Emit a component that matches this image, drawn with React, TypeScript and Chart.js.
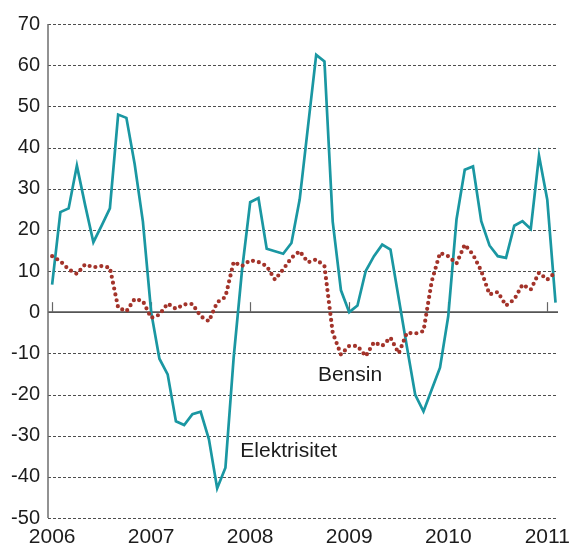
import React, { useEffect, useRef } from 'react';
import { Chart, registerables } from 'chart.js';

Chart.register(...registerables);

// Monthly data, January 2006 .. February 2011 (index 0 = Jan 2006)
const yearLabels = ['2006', '2007', '2008', '2009', '2010', '2011'];
const yTickValues = [70, 60, 50, 40, 30, 20, 10, 0, -10, -20, -30, -40, -50];

const elektrisitet = [
  6.7, 24.3, 25.2, 35.6, 26, 17.0, 21, 25.2, 48.0, 47.2, 36, 22,
  0, -11.3, -15.1, -26.5, -27.4, -24.8, -24.2, -30.9, -42.8, -37.8, -11, 10,
  26.7, 27.7, 15.4, 14.8, 14.2, 16.8, 27.4, 45, 62.5, 60.9, 22, 5.3,
  0, 1.6, 10, 13.6, 16.4, 15.2, 3.3, -8.5, -20.1, -24.1, -18.8, -13.5,
  -1.0, 22.5, 34.6, 35.4, 22.1, 16.2, 13.6, 13.2, 21.0, 22.1, 20.2, 38.0,
  27.3, 2.3,
];

const bensin = [
  13.6, 12.4, 10.4, 9.3, 11.6, 10.9, 11.2, 10.8, 1.1, 0.2, 3.2, 2.7,
  -1.4, -0.6, 2.1, 0.8, 1.9, 2.0, -1.0, -2.2, 2.4, 3.7, 12.2, 11.2,
  12.6, 12.2, 11.2, 7.9, 10.4, 13.2, 14.8, 12.1, 12.8, 11.2, -5, -10.3,
  -8.2, -8.2, -10.7, -7.3, -8.2, -6.2, -10, -5, -5.2, -4.6, 7.5, 14.4,
  13.6, 11.8, 16.4, 14.0, 10, 4.3, 4.9, 1.6, 3.1, 6.7, 5.5, 9.6,
  7.9, 9.7,
];

const seriesLabels = [
  { text: 'Bensin', month: 36.1, value: -16.6, align: 'center' as CanvasTextAlign },
  { text: 'Elektrisitet', month: 22.8, value: -35.1, align: 'left' as CanvasTextAlign },
];

const FONT = '"Liberation Sans", Arial, Helvetica, sans-serif';
const TEAL = '#1a97a2';
const RED = '#a3332a';

export default function App() {
  const ref = useRef<HTMLCanvasElement>(null);

  useEffect(() => {
    if (!ref.current) return;
    const toPts = (arr: number[]) => arr.map((v, i) => ({ x: i, y: v }));
    const yearTicks = yearLabels.map((_, i) => i * 12);

    const decor = {
      id: 'decor',
      beforeDatasetsDraw(chart: any) {
        const { ctx, chartArea, scales } = chart;
        const x = scales.x;
        const y = scales.y;
        ctx.save();
        // dashed horizontal grid lines
        ctx.lineWidth = 1;
        ctx.strokeStyle = '#4e4e4e';
        ctx.setLineDash([3, 2]);
        for (const v of yTickValues) {
          if (v === 0) continue;
          const py = Math.round(y.getPixelForValue(v)) + 0.5;
          ctx.beginPath();
          ctx.moveTo(chartArea.left, py);
          ctx.lineTo(chartArea.right, py);
          ctx.stroke();
        }
        ctx.setLineDash([]);
        // zero line
        const zy = y.getPixelForValue(0);
        ctx.strokeStyle = '#555555';
        ctx.lineWidth = 1.6;
        ctx.beginPath();
        ctx.moveTo(chartArea.left, zy);
        ctx.lineTo(chartArea.right, zy);
        ctx.stroke();
        // year tick marks above zero line
        ctx.lineWidth = 1.2;
        ctx.strokeStyle = '#666666';
        for (const t of yearTicks) {
          const px = Math.round(x.getPixelForValue(t)) + 0.5;
          ctx.beginPath();
          ctx.moveTo(px, zy);
          ctx.lineTo(px, zy - 10);
          ctx.stroke();
        }
        // left axis line
        ctx.strokeStyle = '#6e6e6e';
        ctx.lineWidth = 1.5;
        ctx.beginPath();
        ctx.moveTo(chartArea.left, chartArea.top);
        ctx.lineTo(chartArea.left, chartArea.bottom);
        ctx.stroke();
        ctx.restore();
      },
      afterDatasetsDraw(chart: any) {
        const { ctx, scales } = chart;
        ctx.save();
        ctx.font = `21px ${FONT}`;
        ctx.fillStyle = '#1c1c1c';
        ctx.textBaseline = 'alphabetic';
        for (const l of seriesLabels) {
          ctx.textAlign = l.align;
          ctx.fillText(l.text, scales.x.getPixelForValue(l.month), scales.y.getPixelForValue(l.value));
        }
        ctx.restore();
      },
    };

    const chart = new Chart(ref.current, {
      type: 'line',
      data: {
        datasets: [
          {
            label: 'Bensin',
            data: toPts(bensin),
            borderColor: RED,
            borderWidth: 4.2,
            borderDash: [0, 6],
            borderCapStyle: 'round',
            pointRadius: 0,
            tension: 0,
            fill: false,
          },
          {
            label: 'Elektrisitet',
            data: toPts(elektrisitet),
            borderColor: TEAL,
            borderWidth: 2.7,
            pointRadius: 0,
            tension: 0,
            fill: false,
            borderJoinStyle: 'miter',
          },
        ],
      },
      options: {
        animation: false,
        responsive: false,
        maintainAspectRatio: false,
        devicePixelRatio: 1,
        layout: { padding: { top: 24, right: 12, left: 0, bottom: 0 } },
        plugins: {
          legend: { display: false },
          tooltip: { enabled: false },
        },
        scales: {
          x: {
            type: 'linear',
            min: -0.5,
            max: 61.3,
            grid: { display: false, drawTicks: false },
            border: { display: false },
            afterBuildTicks: (scale: any) => {
              scale.ticks = yearTicks.map((v) => ({ value: v }));
            },
            afterFit: (scale: any) => {
              scale.height = 27;
              scale.paddingLeft = 0;
              scale.paddingRight = 0;
            },
            ticks: {
              autoSkip: false,
              maxRotation: 0,
              padding: 7,
              color: '#1c1c1c',
              font: { family: FONT, size: 21 },
              callback: (v: any) => yearLabels[Math.round(Number(v) / 12)] ?? '',
            },
          },
          y: {
            type: 'linear',
            min: -50,
            max: 70,
            grid: { display: false, drawTicks: false },
            border: { display: false },
            afterBuildTicks: (scale: any) => {
              scale.ticks = yTickValues.map((v) => ({ value: v }));
            },
            afterFit: (scale: any) => {
              scale.width = 48;
              scale.paddingTop = 0;
              scale.paddingBottom = 0;
            },
            ticks: {
              padding: 8,
              color: '#1c1c1c',
              font: { family: FONT, size: 20 },
            },
          },
        },
      },
      plugins: [decor],
    });

    return () => chart.destroy();
  }, []);

  return (
    <div style={{ position: 'absolute', left: 0, top: 0, width: 570, height: 545, background: '#fff' }}>
      <canvas ref={ref} width={570} height={545} style={{ display: 'block' }} />
    </div>
  );
}
